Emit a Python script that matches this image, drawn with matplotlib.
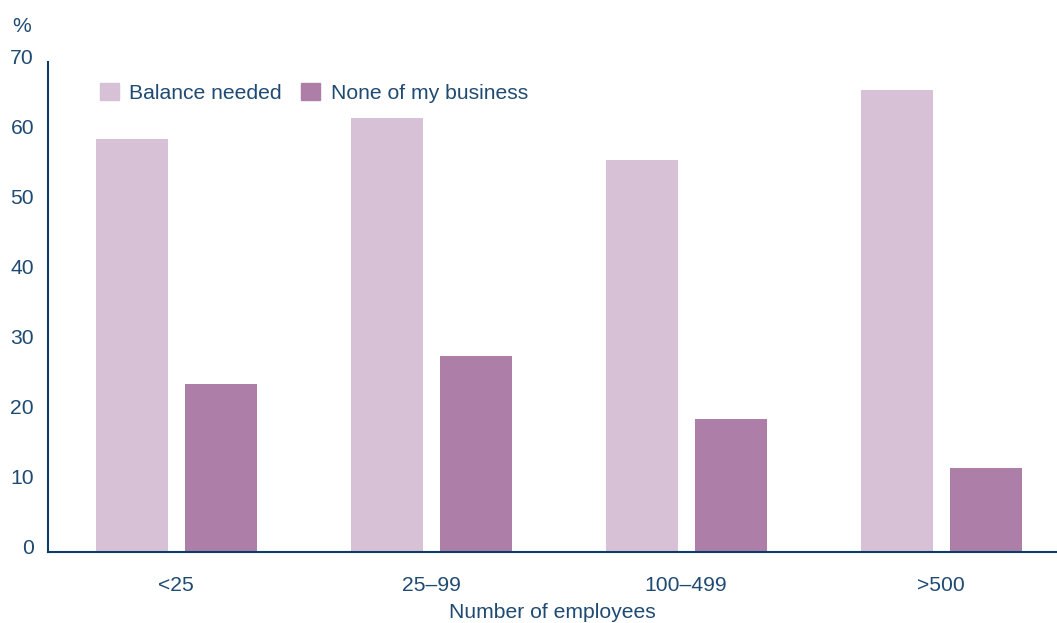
import numpy as np
import matplotlib
matplotlib.use("Agg")
from matplotlib import pyplot as plt
from matplotlib.patches import Patch
from matplotlib.transforms import ScaledTranslation

# data
categories = ["<25", "25\u201399", "100\u2013499", ">500"]
balance_needed = [59, 62, 56, 66]
none_of_business = [24, 28, 19, 12]

c_light = "#d7c1d6"
c_dark = "#ad7ea8"
c_text = "#1f4a72"
c_axis = "#0c3c68"
fs = 15.2

plt.rcParams["font.family"] = ["Liberation Sans", "DejaVu Sans"]

W, H = 1057, 623
fig = plt.figure(figsize=(W / 100, H / 100), dpi=100)
ax = fig.add_axes([48 / W, (H - 552) / H, 1009 / W, 490 / H])

x = np.arange(len(categories))
bw = 0.282
ax.bar(x - 0.1725, balance_needed, bw, color=c_light, label="Balance needed")
ax.bar(x + 0.176, none_of_business, bw, color=c_dark, label="None of my business")

ax.set_xlim(-0.502, 3.455)
ax.set_ylim(0, 70)
ax.set_yticks(range(0, 71, 10))
ax.set_xticks(x)
ax.set_xticklabels(categories)

for s in ["top", "right"]:
    ax.spines[s].set_visible(False)
for s in ["left", "bottom"]:
    ax.spines[s].set_color(c_axis)
    ax.spines[s].set_linewidth(1.5)
ax.tick_params(length=0, colors=c_text, labelsize=fs)
ax.tick_params(axis="y", pad=10)
ax.tick_params(axis="x", pad=17)

# y labels sit a bit above their gridline in the original
shift = ScaledTranslation(0, 5 / 100, fig.dpi_scale_trans)
for lab in ax.get_yticklabels():
    lab.set_transform(lab.get_transform() + shift)

ax.set_xlabel("Number of employees", color=c_text, fontsize=fs, labelpad=6)
fig.text(22 / W, 1 - 27 / H, "%", color=c_text, fontsize=fs, ha="center", va="center")

handles = [Patch(color=c_light), Patch(color=c_dark)]
ax.legend(handles, ["Balance needed", "None of my business"], ncol=2, frameon=False,
          loc="upper left", bbox_to_anchor=(0.043, 0.975), fontsize=fs,
          labelcolor=c_text, handlelength=0.9, handleheight=0.9,
          handletextpad=0.5, columnspacing=0.9, borderaxespad=0)

fig.savefig("out.png", dpi=100)
